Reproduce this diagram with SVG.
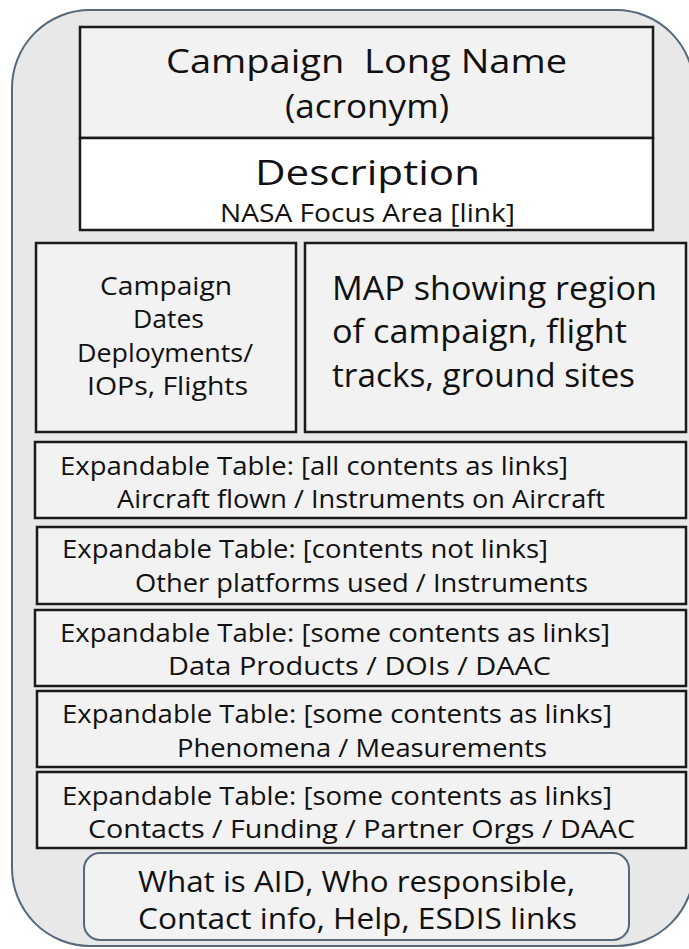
<svg xmlns="http://www.w3.org/2000/svg" width="689" height="949" viewBox="0 0 689 949">
<style>
text{font-family:"Open Sans",Lato,"Liberation Sans",sans-serif;fill:#111;white-space:pre}
.box{fill:#f2f2f2;stroke:#1a1a1a;stroke-width:2.5}
.t{font-size:26px}
</style>
<rect width="689" height="949" fill="#ffffff"/>
<g id="frame"><rect x="12" y="10" width="682" height="936" rx="78" ry="78" fill="#e8e8e8" stroke="#56687a" stroke-width="2"/></g>
<g id="title"><rect class="box" x="80" y="27" width="573" height="111"/>
<text x="166" y="73" font-size="32" textLength="401" lengthAdjust="spacingAndGlyphs">Campaign  Long Name</text>
<text x="285" y="118" font-size="32" textLength="164" lengthAdjust="spacingAndGlyphs">(acronym)</text></g>
<g id="description"><rect class="box" x="80" y="138" width="573" height="92" style="fill:#ffffff"/>
<text x="255" y="185" font-size="35" textLength="225" lengthAdjust="spacingAndGlyphs">Description</text>
<text x="220" y="222" font-size="26" textLength="295" lengthAdjust="spacingAndGlyphs">NASA Focus Area [link]</text></g>
<g id="dates"><rect class="box" x="36" y="243" width="260" height="189"/>
<text class="t" x="100" y="295" textLength="132" lengthAdjust="spacingAndGlyphs">Campaign</text>
<text class="t" x="133" y="328" textLength="71" lengthAdjust="spacingAndGlyphs">Dates</text>
<text class="t" x="77" y="362" textLength="176" lengthAdjust="spacingAndGlyphs">Deployments/</text>
<text class="t" x="87" y="395" textLength="161" lengthAdjust="spacingAndGlyphs">IOPs, Flights</text></g>
<g id="map"><rect class="box" x="305" y="243" width="381" height="189"/>
<text x="332" y="300" font-size="33" textLength="325" lengthAdjust="spacingAndGlyphs">MAP showing region</text>
<text x="332" y="343" font-size="33" textLength="295" lengthAdjust="spacingAndGlyphs">of campaign, flight</text>
<text x="332" y="387" font-size="33" textLength="303" lengthAdjust="spacingAndGlyphs">tracks, ground sites</text></g>
<g id="aircraft"><rect class="box" x="35" y="442" width="651" height="76"/>
<text class="t" x="60" y="475" textLength="508" lengthAdjust="spacingAndGlyphs">Expandable Table: [all contents as links]</text>
<text class="t" x="117" y="508" textLength="488" lengthAdjust="spacingAndGlyphs">Aircraft flown / Instruments on Aircraft</text></g>
<g id="platforms"><rect class="box" x="37" y="527" width="649" height="77"/>
<text class="t" x="62" y="558" textLength="486" lengthAdjust="spacingAndGlyphs">Expandable Table: [contents not links]</text>
<text class="t" x="135" y="592" textLength="453" lengthAdjust="spacingAndGlyphs">Other platforms used / Instruments</text></g>
<g id="products"><rect class="box" x="35" y="610" width="651" height="76"/>
<text class="t" x="60" y="642" textLength="550" lengthAdjust="spacingAndGlyphs">Expandable Table: [some contents as links]</text>
<text class="t" x="168" y="675" textLength="383" lengthAdjust="spacingAndGlyphs">Data Products / DOIs / DAAC</text></g>
<g id="phenomena"><rect class="box" x="37" y="691" width="649" height="76"/>
<text class="t" x="62" y="723" textLength="550" lengthAdjust="spacingAndGlyphs">Expandable Table: [some contents as links]</text>
<text class="t" x="177" y="757" textLength="370" lengthAdjust="spacingAndGlyphs">Phenomena / Measurements</text></g>
<g id="contacts"><rect class="box" x="37" y="772" width="649" height="76"/>
<text class="t" x="62" y="805" textLength="550" lengthAdjust="spacingAndGlyphs">Expandable Table: [some contents as links]</text>
<text class="t" x="88" y="838" textLength="547" lengthAdjust="spacingAndGlyphs">Contacts / Funding / Partner Orgs / DAAC</text></g>
<g id="about"><rect x="84" y="853" width="545" height="87" rx="16" ry="16" fill="#f2f2f2" stroke="#56687a" stroke-width="2"/>
<text x="138" y="892" font-size="29" textLength="437" lengthAdjust="spacingAndGlyphs">What is AID, Who responsible,</text>
<text x="138" y="929" font-size="29" textLength="439" lengthAdjust="spacingAndGlyphs">Contact info, Help, ESDIS links</text></g>
<g id="connectors"/>
</svg>
